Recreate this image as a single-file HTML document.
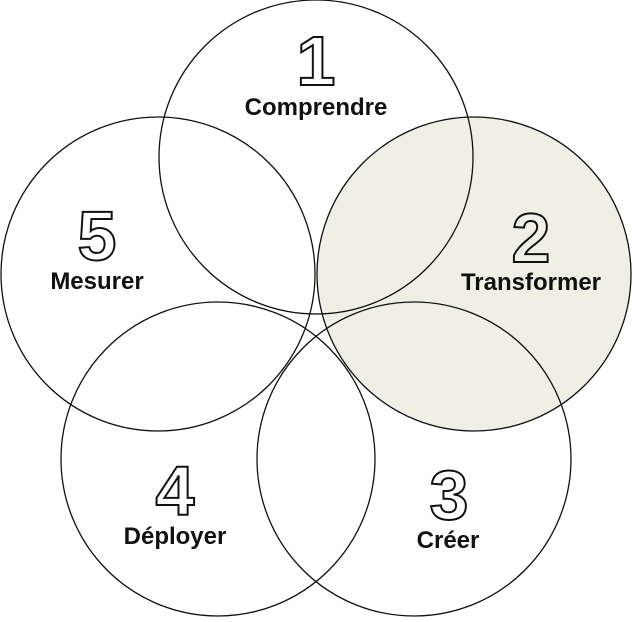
<!DOCTYPE html>
<html><head><style>html,body{margin:0;padding:0;background:#fff}</style></head>
<body>
<svg width="632" height="617" viewBox="0 0 632 617" xmlns="http://www.w3.org/2000/svg">
<circle cx="474" cy="274" r="157" fill="#efefe6"/>
<g fill="none" stroke="#111" stroke-width="1.3">
<circle cx="316" cy="157" r="157"/>
<circle cx="474" cy="274" r="157"/>
<circle cx="158" cy="274" r="157"/>
<circle cx="218" cy="459" r="157"/>
<circle cx="414" cy="459" r="157"/>
</g>
<g font-family="Liberation Sans, sans-serif" text-anchor="middle">
<g font-size="70" font-weight="bold" fill="#fff" stroke="#111" stroke-width="2">
<text x="316" y="85">1</text>
<text x="531" y="262" fill="#efefe6">2</text>
<text x="449" y="519">3</text>
<text x="175" y="515">4</text>
<text x="97" y="260">5</text>
</g>
<g font-size="24" font-weight="bold" fill="#111">
<text x="316" y="115">Comprendre</text>
<text x="531" y="290">Transformer</text>
<text x="448" y="548">Créer</text>
<text x="175" y="544">Déployer</text>
<text x="97" y="289">Mesurer</text>
</g>
</g>
</svg>
</body></html>
